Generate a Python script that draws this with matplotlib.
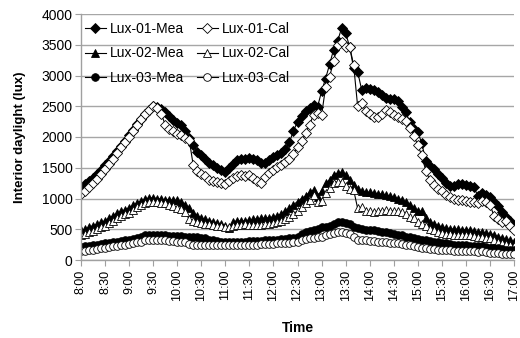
import numpy as np
import matplotlib
matplotlib.use("Agg")
import matplotlib.pyplot as plt

plt.rcParams['font.family'] = ['Liberation Sans', 'DejaVu Sans']

# 5-minute samples from 8:00 to 17:00
tick_labels = ["8:00", "8:30", "9:00", "9:30", "10:00", "10:30", "11:00", "11:30", "12:00",
               "12:30", "13:00", "13:30", "14:00", "14:30", "15:00", "15:30", "16:00", "16:30", "17:00"]

lux01_mea = [
    1190, 1230, 1280, 1330, 1400, 1470, 1540, 1610, 1690, 1770, 1850, 1940,
    2030, 2120, 2210, 2290, 2370, 2440, 2500, 2480, 2450, 2400, 2340, 2270,
    2230, 2200, 2100, 1980, 1870, 1760, 1700, 1640, 1580, 1545, 1500, 1460,
    1436, 1490, 1560, 1620, 1650, 1650, 1660, 1640, 1620, 1570, 1570, 1620,
    1680, 1710, 1740, 1800, 1920, 2100, 2250, 2340, 2420, 2470, 2520, 2490,
    2740, 2950, 3180, 3420, 3560, 3770, 3690, 3470, 3120, 3060, 2770, 2800,
    2780, 2760, 2730, 2680, 2630, 2620, 2620, 2580, 2480, 2400, 2250, 2130,
    2080, 1900, 1610, 1530, 1480, 1400, 1340, 1250, 1200, 1200, 1230, 1230,
    1220, 1210, 1180, 1040, 1090, 1060, 1030, 950, 880, 780, 700, 630,
    560]
lux01_cal = [
    1080, 1130, 1180, 1250, 1320, 1400, 1480, 1560, 1650, 1740, 1830, 1920,
    2000, 2100, 2190, 2290, 2380, 2440, 2510, 2470, 2380, 2200, 2130, 2090,
    2050, 2030, 1990, 1950, 1540, 1440, 1400, 1360, 1300, 1280, 1270, 1250,
    1240, 1280, 1340, 1360, 1380, 1370, 1380, 1340, 1280, 1250, 1350, 1420,
    1460, 1510, 1550, 1600, 1650, 1730, 1830, 1930, 2060, 2200, 2360, 2390,
    2350, 2810, 2980, 3230, 3500, 3550, 3470, 3470, 3170, 2500, 2550, 2420,
    2380, 2330, 2330, 2380, 2440, 2400, 2360, 2330, 2290, 2260, 2150, 2020,
    1870, 1700, 1450, 1300, 1220, 1160, 1120, 1060, 1030, 1000, 980, 970,
    960, 950, 940, 920, 960, 950, 900, 720, 670, 620, 640, 560,
    490]
lux02_mea = [
    480, 500, 530, 560, 580, 610, 640, 680, 720, 760, 790, 820,
    850, 890, 930, 960, 990, 1010, 1010, 1000, 990, 980, 980, 970,
    970, 950, 900, 840, 770, 720, 680, 660, 640, 620, 600, 580,
    560, 520, 620, 640, 630, 640, 650, 660, 670, 680, 680, 690,
    700, 720, 750, 800, 850, 900, 950, 1000, 1040, 1100, 1140, 1030,
    1130, 1250, 1300, 1390, 1410, 1430, 1390, 1300, 1220, 1150, 1120, 1110,
    1100, 1090, 1080, 1070, 1060, 1040, 1020, 1000, 980, 950, 900, 840,
    800, 790, 680, 620, 590, 560, 540, 520, 510, 500, 500, 490,
    490, 480, 470, 460, 450, 440, 430, 410, 380, 360, 340, 320,
    300]
lux02_cal = [
    410, 430, 450, 470, 500, 530, 560, 600, 640, 680, 710, 740,
    770, 810, 860, 900, 930, 950, 950, 940, 930, 920, 900, 870,
    850, 830, 780, 660, 640, 620, 600, 590, 580, 570, 560, 550,
    540, 530, 560, 570, 570, 580, 570, 570, 570, 570, 580, 590,
    600, 620, 640, 660, 700, 750, 800, 860, 920, 980, 1050, 950,
    960, 1090, 1170, 1260, 1270, 1270, 1200, 1150, 1140, 840, 860, 790,
    790, 780, 790, 800, 810, 800, 800, 790, 780, 750, 700, 680,
    620, 580, 550, 510, 480, 460, 440, 430, 420, 410, 410, 400,
    400, 400, 390, 370, 380, 360, 350, 320, 300, 280, 260, 240,
    220]
lux03_mea = [
    210, 220, 230, 240, 250, 260, 270, 280, 290, 300, 310, 320,
    330, 340, 360, 380, 400, 410, 410, 400, 400, 400, 390, 390,
    390, 390, 380, 380, 380, 370, 360, 350, 330, 320, 310, 300,
    290, 290, 300, 300, 300, 300, 310, 310, 310, 310, 320, 320,
    330, 330, 340, 340, 350, 360, 380, 420, 460, 470, 480, 500,
    540, 540, 560, 590, 610, 620, 600, 580, 540, 520, 500, 490,
    480, 480, 470, 460, 450, 440, 430, 410, 400, 380, 370, 350,
    340, 330, 320, 310, 300, 290, 280, 270, 260, 250, 250, 240,
    240, 230, 230, 220, 220, 210, 200, 200, 190, 180, 170, 160,
    160]
lux03_cal = [
    140, 150, 160, 170, 180, 190, 200, 210, 220, 230, 240, 250,
    260, 270, 290, 300, 320, 330, 330, 320, 320, 320, 310, 310,
    300, 300, 290, 260, 250, 250, 250, 250, 250, 250, 240, 240,
    240, 240, 240, 250, 250, 250, 250, 250, 250, 260, 260, 260,
    260, 270, 270, 280, 280, 290, 300, 320, 340, 350, 360, 380,
    380, 400, 420, 440, 460, 460, 440, 420, 380, 330, 320, 320,
    310, 310, 300, 300, 290, 280, 280, 270, 260, 250, 240, 220,
    210, 200, 190, 180, 180, 170, 170, 160, 160, 150, 150, 150,
    140, 140, 140, 130, 140, 130, 120, 110, 110, 100, 100, 100,
    100]

series = [
    ("Lux-01-Mea", lux01_mea, "D", "black"),
    ("Lux-01-Cal", lux01_cal, "D", "white"),
    ("Lux-02-Mea", lux02_mea, "^", "black"),
    ("Lux-02-Cal", lux02_cal, "^", "white"),
    ("Lux-03-Mea", lux03_mea, "o", "black"),
    ("Lux-03-Cal", lux03_cal, "o", "white"),
]

fig = plt.figure(figsize=(5.2, 3.38), dpi=100)
ax = fig.add_axes([81/520, 1-260/338, (514-81)/520, (260-14)/338])

handles = []
for name, vals, mk, fc in series:
    x = np.arange(len(vals))
    ms = 4.8 if mk == "D" else 5.5
    h, = ax.plot(x, vals, color="black", lw=0.8, marker=mk, ms=ms,
                 markerfacecolor=fc, markeredgecolor="black", markeredgewidth=0.6,
                 label=name)
    handles.append(h)

n = len(lux01_mea)
ax.set_xlim(0, n - 1)
ax.set_ylim(0, 4000)
ax.set_yticks(np.arange(0, 4001, 500))
ax.set_xticks(np.arange(0, n, 6))
ax.set_xticklabels(tick_labels, rotation=90, fontsize=9)
ax.tick_params(axis="y", labelsize=10, length=4, color="#a0a0a0", pad=2)
ax.tick_params(axis="x", length=4, color="#a0a0a0", pad=3)
ax.grid(axis="y", color="#a6a6a6", lw=1)
ax.set_axisbelow(True)
for s in ["top", "right"]:
    ax.spines[s].set_visible(False)
for s in ["left", "bottom"]:
    ax.spines[s].set_color("#a0a0a0")
    ax.spines[s].set_linewidth(1)

ax.set_ylabel("Interior daylight (lux)", fontsize=9.5, fontweight="bold", labelpad=11)
ax.set_xlabel("Time", fontsize=10, fontweight="bold", labelpad=14)

# legend filled row by row: Mea / Cal pairs on each row
order = [0, 2, 4, 1, 3, 5]
leg = ax.legend([handles[i] for i in order], [series[i][0] for i in order],
                ncol=2, loc="upper left", bbox_to_anchor=(85/520, 1-22/338),
                bbox_transform=fig.transFigure, frameon=False, fontsize=10,
                handlelength=1.5, handletextpad=0.3, columnspacing=0.9,
                labelspacing=0.75, borderpad=0, borderaxespad=0)

fig.savefig("out.png", dpi=100)
